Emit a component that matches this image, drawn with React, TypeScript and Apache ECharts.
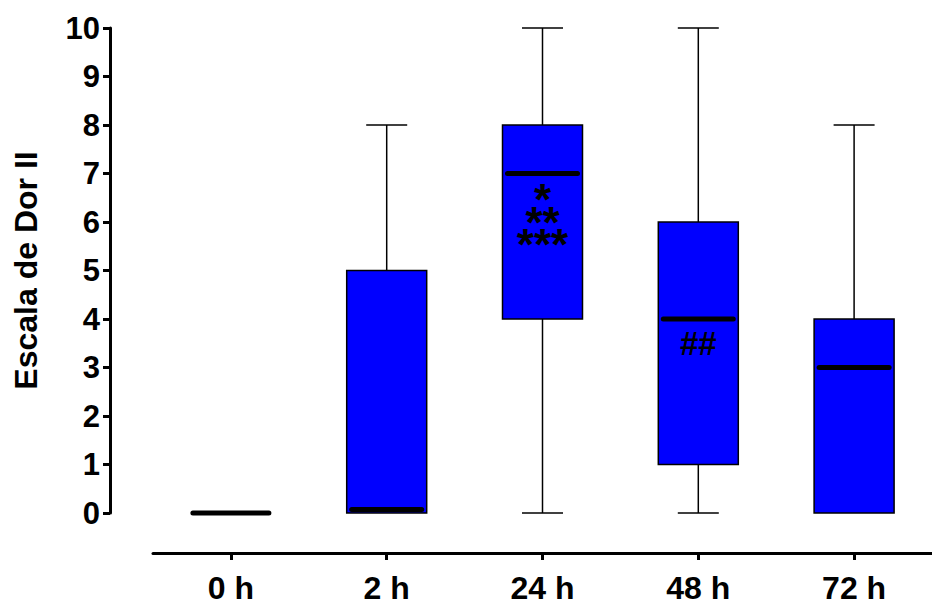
import React, { useEffect, useRef } from "react";
import * as echarts from "echarts";

const categories = ["0 h", "2 h", "24 h", "48 h", "72 h"];
const mins = [0, 0, 0, 0, 0];
const q1s = [0, 0, 4, 1, 0];
const medians = [0, 0, 7, 4, 3];
const q3s = [0, 5, 8, 6, 4];
const maxs = [0, 8, 10, 10, 8];
const yTicks = [0, 10, 1]; // min, max, interval

const annotationTexts = ["*\n**\n***", "##"];
const annotationCat = [2, 3];
const annotationY = [6.0, 3.5];

const FONT = 'Arial, "Liberation Sans", Helvetica, sans-serif';

export default function App() {
  const ref = useRef<HTMLDivElement>(null);
  useEffect(() => {
    if (!ref.current) return;
    const chart = echarts.init(ref.current, null, { renderer: "svg" });
    const boxData = categories.map((_, i) => [i, mins[i], q1s[i], medians[i], q3s[i], maxs[i]]);
    const annData = annotationTexts.map((_, i) => [annotationCat[i], annotationY[i]]);
    chart.setOption({
      animation: false,
      backgroundColor: "#fff",
      grid: { left: 153, top: 28, width: 790, height: 485, containLabel: false },
      xAxis: {
        type: "category",
        data: categories,
        boundaryGap: true,
        offset: 40,
        axisLine: { show: true, onZero: false, lineStyle: { color: "#000", width: 3 } },
        axisTick: { show: true, alignWithLabel: true, length: 7, lineStyle: { color: "#000", width: 3 } },
        axisLabel: { color: "#000", fontSize: 32, fontWeight: "bold", fontFamily: FONT, margin: 20, lineHeight: 30 },
        splitLine: { show: false },
      },
      yAxis: {
        type: "value",
        min: yTicks[0],
        max: yTicks[1],
        interval: yTicks[2],
        offset: 43,
        name: "Escala de Dor II",
        nameLocation: "middle",
        nameGap: 68,
        nameTextStyle: { color: "#000", fontSize: 32, fontWeight: "bold", fontFamily: FONT },
        axisLine: { show: true, onZero: false, lineStyle: { color: "#000", width: 3 } },
        axisTick: { show: true, length: 7, lineStyle: { color: "#000", width: 3 } },
        axisLabel: { color: "#000", fontSize: 31, fontWeight: "bold", fontFamily: FONT, margin: 10 },
        splitLine: { show: false },
      },
      series: [
        {
          type: "custom",
          data: boxData,
          encode: { x: 0, y: [1, 2, 3, 4, 5] },
          renderItem: (params: any, api: any) => {
            const c = api.value(0);
            const pMin = api.coord([c, api.value(1)]);
            const pQ1 = api.coord([c, api.value(2)]);
            const pMed = api.coord([c, api.value(3)]);
            const pQ3 = api.coord([c, api.value(4)]);
            const pMax = api.coord([c, api.value(5)]);
            const cx = pMed[0];
            const bw = 80;
            const cap = 41;
            const thin = { stroke: "#000", lineWidth: 1.5 };
            const children: any[] = [];
            if (pMax[1] < pQ3[1]) {
              children.push({ type: "line", shape: { x1: cx, y1: pQ3[1], x2: cx, y2: pMax[1] }, style: thin });
              children.push({ type: "line", shape: { x1: cx - cap / 2, y1: pMax[1], x2: cx + cap / 2, y2: pMax[1] }, style: thin });
            }
            if (pMin[1] > pQ1[1]) {
              children.push({ type: "line", shape: { x1: cx, y1: pQ1[1], x2: cx, y2: pMin[1] }, style: thin });
              children.push({ type: "line", shape: { x1: cx - cap / 2, y1: pMin[1], x2: cx + cap / 2, y2: pMin[1] }, style: thin });
            }
            const h = pQ1[1] - pQ3[1];
            if (h > 0) {
              children.push({
                type: "rect",
                shape: { x: cx - bw / 2, y: pQ3[1], width: bw, height: h },
                style: { fill: "#0000FF", stroke: "#000", lineWidth: 1.5 },
              });
            }
            let my = pMed[1];
            let half = bw / 2;
            if (h > 0) {
              my = Math.min(Math.max(my, pQ3[1] + 3.5), pQ1[1] - 3.5);
              half = bw / 2 - 3;
            }
            children.push({
              type: "line",
              shape: { x1: cx - half + 2, y1: my, x2: cx + half - 2, y2: my },
              style: { stroke: "#000", lineWidth: 5, lineCap: "round" },
            });
            return { type: "group", children };
          },
          z: 2,
        },
        {
          type: "custom",
          data: annData,
          encode: { x: 0, y: 1 },
          renderItem: (params: any, api: any) => {
            const p = api.coord([api.value(0), api.value(1)]);
            const t = annotationTexts[params.dataIndex];
            const isHash = t.indexOf("#") >= 0;
            return {
              type: "text",
              x: p[0],
              y: p[1],
              style: {
                text: t,
                fill: "#000",
                font: `bold ${isHash ? 33 : 44}px ${FONT}`,
                lineHeight: isHash ? 30 : 22.5,
                align: "center",
                verticalAlign: "middle",
              },
            };
          },
          z: 3,
        },
      ],
    });
    return () => chart.dispose();
  }, []);
  return (
    <div
      ref={ref}
      style={{ position: "fixed", left: 0, top: 0, width: 932, height: 605 }}
    />
  );
}
